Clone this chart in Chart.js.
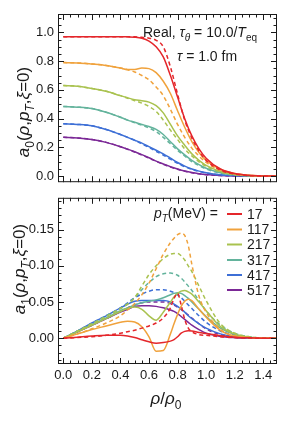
<!DOCTYPE html>
<html>
<head>
<meta charset="utf-8">
<script src="https://cdn.jsdelivr.net/npm/chart.js@4.4.1/dist/chart.umd.min.js"></script>
<style>
  body { margin: 0; background: #fff; }
  #wrap { position: relative; width: 291px; height: 422px; }
  canvas { position: absolute; left: 0; }
</style>
</head>
<body>
<div id="wrap">
  <canvas id="topChart" width="291" height="194" style="top:0"></canvas>
  <canvas id="botChart" width="291" height="236" style="top:186px"></canvas>
</div>
<script>
// pT values (MeV) and their colours
const pTLabels = ['17', '117', '217', '317', '417', '517'];
const colors = ['#e4262b', '#f0a23c', '#a9c24f', '#63b39c', '#3d6fd6', '#7b2896'];

// tick labels
const xTicks = [0, 0.2, 0.4, 0.6, 0.8, 1.0, 1.2, 1.4];
const yTicksTop = [0, 0.2, 0.4, 0.6, 0.8, 1.0];
const yTicksBot = [0, 0.05, 0.10, 0.15];

// rho/rho0 sample points
const xTop = [0, 0.1, 0.2, 0.3, 0.4, 0.45, 0.5, 0.55, 0.6, 0.65, 0.7, 0.75, 0.8, 0.85, 0.9, 0.95, 1.0, 1.1, 1.2, 1.3, 1.4, 1.5];
const xBot = [0, 0.1, 0.2, 0.3, 0.4, 0.45, 0.5, 0.55, 0.6, 0.65, 0.7, 0.75, 0.775, 0.8, 0.825, 0.85, 0.875, 0.9, 0.95, 1.0, 1.1, 1.2, 1.3, 1.4, 1.5];

// a0 (top panel), one row per pT
const a0Solid = [
  [0.97, 0.97, 0.97, 0.97, 0.97, 0.969, 0.967, 0.96, 0.94, 0.9, 0.83, 0.7, 0.55, 0.4, 0.28, 0.19, 0.125, 0.05, 0.018, 0.006, 0.0015, 0],
  [0.79, 0.788, 0.78, 0.77, 0.752, 0.742, 0.742, 0.752, 0.748, 0.72, 0.66, 0.575, 0.455, 0.34, 0.24, 0.165, 0.11, 0.048, 0.018, 0.006, 0.0015, 0],
  [0.63, 0.625, 0.61, 0.59, 0.56, 0.545, 0.532, 0.525, 0.515, 0.49, 0.44, 0.36, 0.28, 0.215, 0.155, 0.11, 0.075, 0.033, 0.012, 0.004, 0.001, 0],
  [0.485, 0.48, 0.47, 0.445, 0.41, 0.39, 0.375, 0.36, 0.345, 0.325, 0.29, 0.24, 0.19, 0.148, 0.11, 0.08, 0.055, 0.024, 0.009, 0.003, 0.001, 0],
  [0.365, 0.36, 0.35, 0.325, 0.29, 0.27, 0.25, 0.23, 0.205, 0.18, 0.155, 0.125, 0.095, 0.07, 0.05, 0.035, 0.024, 0.01, 0.004, 0.001, 0, 0],
  [0.27, 0.266, 0.255, 0.235, 0.205, 0.188, 0.17, 0.15, 0.128, 0.105, 0.085, 0.066, 0.05, 0.036, 0.025, 0.017, 0.011, 0.004, 0.001, 0, 0, 0],
];
const a0Dashed = [
  [0.97, 0.97, 0.97, 0.97, 0.97, 0.97, 0.969, 0.966, 0.96, 0.945, 0.9, 0.76, 0.57, 0.39, 0.265, 0.175, 0.11, 0.042, 0.015, 0.004, 0.001, 0],
  [0.79, 0.788, 0.78, 0.77, 0.752, 0.74, 0.725, 0.7, 0.67, 0.62, 0.56, 0.465, 0.36, 0.27, 0.195, 0.14, 0.095, 0.042, 0.016, 0.005, 0.001, 0],
  [0.63, 0.625, 0.61, 0.59, 0.56, 0.542, 0.525, 0.508, 0.485, 0.45, 0.39, 0.32, 0.255, 0.19, 0.14, 0.1, 0.068, 0.03, 0.011, 0.003, 0.001, 0],
  [0.485, 0.48, 0.47, 0.445, 0.41, 0.39, 0.372, 0.355, 0.335, 0.31, 0.27, 0.225, 0.18, 0.14, 0.1, 0.074, 0.05, 0.022, 0.008, 0.002, 0.0005, 0],
  [0.365, 0.36, 0.35, 0.325, 0.29, 0.27, 0.249, 0.225, 0.2, 0.173, 0.147, 0.118, 0.09, 0.066, 0.047, 0.033, 0.022, 0.009, 0.003, 0.001, 0, 0],
  [0.27, 0.266, 0.255, 0.235, 0.205, 0.187, 0.168, 0.147, 0.125, 0.103, 0.082, 0.063, 0.048, 0.034, 0.024, 0.016, 0.01, 0.004, 0.001, 0, 0, 0],
];

// a1 (bottom panel), one row per pT
const a1Solid = [
  [0, 0.0015, 0.003, 0.004, 0.004, 0.003, 0.001, -0.002, -0.005, -0.007, -0.006, -0.004, -0.002, 0.002, 0.007, 0.0095, 0.0105, 0.01, 0.008, 0.0065, 0.0035, 0.0015, 0.0005, 0.0001, 0],
  [0, 0.006, 0.012, 0.017, 0.022, 0.0235, 0.0225, 0.016, 0.002, -0.018, -0.017, 0.006, 0.02, 0.033, 0.044, 0.051, 0.054, 0.052, 0.04, 0.029, 0.011, 0.003, 0.001, 0.0002, 0],
  [0, 0.009, 0.018, 0.027, 0.037, 0.041, 0.043, 0.04, 0.031, 0.025, 0.036, 0.05, 0.057, 0.062, 0.065, 0.066, 0.064, 0.061, 0.05, 0.038, 0.016, 0.006, 0.0015, 0.0003, 0],
  [0, 0.0095, 0.019, 0.028, 0.038, 0.042, 0.046, 0.049, 0.051, 0.053, 0.056, 0.06, 0.062, 0.063, 0.062, 0.059, 0.055, 0.05, 0.04, 0.03, 0.014, 0.005, 0.0015, 0.0003, 0],
  [0, 0.01, 0.021, 0.031, 0.042, 0.047, 0.051, 0.052, 0.052, 0.052, 0.052, 0.05, 0.047, 0.044, 0.04, 0.036, 0.031, 0.027, 0.02, 0.014, 0.006, 0.002, 0.0005, 0, 0],
  [0, 0.009, 0.018, 0.027, 0.036, 0.04, 0.044, 0.045, 0.045, 0.044, 0.042, 0.039, 0.037, 0.034, 0.03, 0.026, 0.022, 0.018, 0.012, 0.007, 0.0025, 0.0008, 0.0002, 0, 0],
];
const a1Dashed = [
  [0, 0.001, 0.002, 0.004, 0.007, 0.009, 0.011, 0.014, 0.017, 0.021, 0.028, 0.042, 0.055, 0.062, 0.046, 0.026, 0.014, 0.009, 0.005, 0.004, 0.002, 0.001, 0.0003, 0, 0],
  [0, 0.006, 0.013, 0.021, 0.031, 0.039, 0.048, 0.06, 0.076, 0.096, 0.116, 0.132, 0.138, 0.143, 0.145, 0.142, 0.128, 0.102, 0.058, 0.036, 0.012, 0.003, 0.001, 0, 0],
  [0, 0.01, 0.02, 0.03, 0.041, 0.047, 0.056, 0.072, 0.088, 0.1, 0.11, 0.116, 0.117, 0.117, 0.114, 0.108, 0.1, 0.092, 0.072, 0.052, 0.02, 0.007, 0.002, 0.0004, 0],
  [0, 0.01, 0.02, 0.031, 0.041, 0.048, 0.056, 0.067, 0.077, 0.085, 0.089, 0.09, 0.089, 0.087, 0.083, 0.078, 0.072, 0.066, 0.052, 0.038, 0.018, 0.007, 0.002, 0.0004, 0],
  [0, 0.01, 0.021, 0.031, 0.042, 0.049, 0.056, 0.061, 0.065, 0.067, 0.067, 0.065, 0.063, 0.06, 0.056, 0.051, 0.046, 0.041, 0.031, 0.022, 0.01, 0.004, 0.001, 0, 0],
  [0, 0.009, 0.018, 0.027, 0.037, 0.042, 0.046, 0.049, 0.05, 0.05, 0.05, 0.048, 0.046, 0.043, 0.04, 0.036, 0.032, 0.028, 0.02, 0.013, 0.005, 0.0015, 0.0004, 0, 0],
];

const FONT = '"Liberation Sans", Arial, sans-serif';
const INK = '#1a1a1a';

// draws text made of pieces: [text, style], style 'i' italic, 's' subscript
function richText(ctx, parts, x, y, size, align) {
  const fontOf = (st) => (st.includes('i') ? 'italic ' : '') + (st.includes('s') ? Math.round(size * 0.7) : size) + 'px ' + FONT;
  let total = 0;
  const widths = parts.map(([t, st]) => {
    ctx.font = fontOf(st);
    const w = ctx.measureText(t).width;
    total += w;
    return w;
  });
  let cx = align === 'right' ? x - total : align === 'center' ? x - total / 2 : x;
  ctx.textAlign = 'left';
  ctx.textBaseline = 'alphabetic';
  parts.forEach(([t, st], i) => {
    ctx.font = fontOf(st);
    ctx.fillText(t, cx, y + (st.includes('s') ? size * 0.28 : 0));
    cx += widths[i];
  });
}

function makeDatasets(xs, solid, dashed) {
  const sets = [];
  pTLabels.forEach((label, i) => {
    sets.push({
      label: label,
      data: xs.map((x, j) => ({ x: x, y: solid[i][j] })),
      borderColor: colors[i],
      borderWidth: 1.5,
    });
    sets.push({
      label: label + ' dashed',
      data: xs.map((x, j) => ({ x: x, y: dashed[i][j] })),
      borderColor: colors[i],
      borderWidth: 1.5,
      borderDash: [4, 3],
    });
  });
  return sets;
}

// frame with inward major/minor ticks on all four sides
const framePlugin = {
  id: 'frame',
  afterDraw(chart, args, opts) {
    const { ctx, chartArea: a, scales } = chart;
    const x = scales.x, y = scales.y;
    ctx.save();
    ctx.strokeStyle = INK;
    ctx.lineWidth = 1;
    ctx.strokeRect(a.left + 0.5, a.top + 0.5, a.right - a.left - 1, a.bottom - a.top - 1);
    ctx.beginPath();
    const xTick = (v, len) => {
      const p = Math.round(x.getPixelForValue(v)) + 0.5;
      if (p < a.left || p > a.right) return;
      ctx.moveTo(p, a.bottom); ctx.lineTo(p, a.bottom - len);
      ctx.moveTo(p, a.top); ctx.lineTo(p, a.top + len);
    };
    const yTick = (v, len) => {
      const p = Math.round(y.getPixelForValue(v)) + 0.5;
      if (p < a.top || p > a.bottom) return;
      ctx.moveTo(a.left, p); ctx.lineTo(a.left + len, p);
      ctx.moveTo(a.right, p); ctx.lineTo(a.right - len, p);
    };
    for (let k = 0; k <= 30; k++) xTick(k * 0.05, k % 4 === 0 ? 6 : 3.5);
    const n = Math.round(opts.yMax / opts.yMinor);
    for (let k = -5; k <= n; k++) {
      const v = k * opts.yMinor;
      const isMajor = Math.abs(v / opts.yMajor - Math.round(v / opts.yMajor)) < 1e-6;
      yTick(v, isMajor ? 6 : 3.5);
    }
    ctx.stroke();
    ctx.restore();
  },
};

// axis titles, annotations and legend drawn as text
const textPlugin = {
  id: 'texts',
  afterDraw(chart, args, opts) {
    const ctx = chart.ctx;
    ctx.save();
    ctx.fillStyle = INK;
    const sub = opts.sub;
    // rotated y title
    ctx.save();
    ctx.translate(opts.yTitleX, opts.yTitleY);
    ctx.rotate(-Math.PI / 2);
    richText(ctx, [['a', 'i'], [sub, 's'], ['(', ''], ['ρ', 'i'], [',', ''], ['p', 'i'], ['T', 'si'], [',', ''], ['ξ', 'i'], ['=0)', '']], 0, 0, 17, 'center');
    ctx.restore();
    if (opts.top) {
      richText(ctx, [['Real, ', ''], ['τ', 'i'], ['θ', 'si'], [' = 10.0/', ''], ['T', 'i'], ['eq', 's']], 257, 37, 14, 'right');
      richText(ctx, [['τ', 'i'], [' = 1.0 fm', '']], 177, 61, 14, 'left');
    } else {
      const off = 186;
      richText(ctx, [['ρ', 'i'], ['/', ''], ['ρ', 'i'], ['0', 's']], 166, 404 - off, 17, 'center');
      richText(ctx, [['p', 'i'], ['T', 'si'], ['(MeV) =', '']], 218, 218 - off, 14, 'right');
      const rows = [214, 229.5, 244.5, 260, 275, 290];
      pTLabels.forEach((lab, i) => {
        const yy = rows[i] - off;
        ctx.strokeStyle = colors[i];
        ctx.lineWidth = 2;
        ctx.beginPath();
        ctx.moveTo(227, yy);
        ctx.lineTo(242, yy);
        ctx.stroke();
        ctx.font = '14px ' + FONT;
        ctx.textAlign = 'left';
        ctx.textBaseline = 'middle';
        ctx.fillText(lab, 247, yy + 1);
      });
    }
    ctx.restore();
  },
};

function baseOptions(yMin, yMax, yTicks, digits) {
  return {
    responsive: false,
    animation: false,
    devicePixelRatio: 1,
    elements: { point: { radius: 0 }, line: { cubicInterpolationMode: 'monotone', fill: false } },
    plugins: { legend: { display: false }, tooltip: { enabled: false } },
    scales: {
      x: {
        type: 'linear',
        min: -0.037,
        max: 1.496,
        grid: { display: false, drawTicks: false },
        border: { display: false },
        afterBuildTicks: (s) => { s.ticks = xTicks.map((v) => ({ value: v })); },
        ticks: {
          autoSkip: false,
          maxRotation: 0,
          padding: 4,
          color: INK,
          font: { family: FONT, size: 13 },
          callback: (v) => Number(v).toFixed(1),
        },
      },
      y: {
        min: yMin,
        max: yMax,
        grid: { display: false, drawTicks: false },
        border: { display: false },
        afterBuildTicks: (s) => { s.ticks = yTicks.map((v) => ({ value: v })); },
        afterFit: (s) => { s.width = 58; },
        ticks: {
          padding: 4,
          color: INK,
          font: { family: FONT, size: 13 },
          callback: (v) => Number(v).toFixed(digits),
        },
      },
    },
  };
}

// top panel: a0
const topOpts = baseOptions(-0.042, 1.128, yTicksTop, 1);
topOpts.scales.x.display = false;
topOpts.layout = { padding: { top: 14, right: 14, bottom: 4, left: 0 } };
topOpts.plugins.frame = { yMajor: 0.2, yMinor: 0.05, yMax: 1.128 };
topOpts.plugins.texts = { sub: '0', top: true, yTitleX: 29, yTitleY: 112 };
new Chart(document.getElementById('topChart'), {
  type: 'line',
  data: { datasets: makeDatasets(xTop, a0Solid, a0Dashed) },
  options: topOpts,
  plugins: [framePlugin, textPlugin],
});

// bottom panel: a1
const botOpts = baseOptions(-0.0356, 0.194, yTicksBot, 2);
botOpts.scales.x.afterFit = (s) => { s.height = 58; };
botOpts.layout = { padding: { top: 4, right: 14, bottom: 0, left: 0 } };
botOpts.plugins.frame = { yMajor: 0.05, yMinor: 0.01, yMax: 0.194 };
botOpts.plugins.texts = { sub: '1', top: false, yTitleX: 25, yTitleY: 269 - 186 };
new Chart(document.getElementById('botChart'), {
  type: 'line',
  data: { datasets: makeDatasets(xBot, a1Solid, a1Dashed) },
  options: botOpts,
  plugins: [framePlugin, textPlugin],
});
</script>
</body>
</html>
